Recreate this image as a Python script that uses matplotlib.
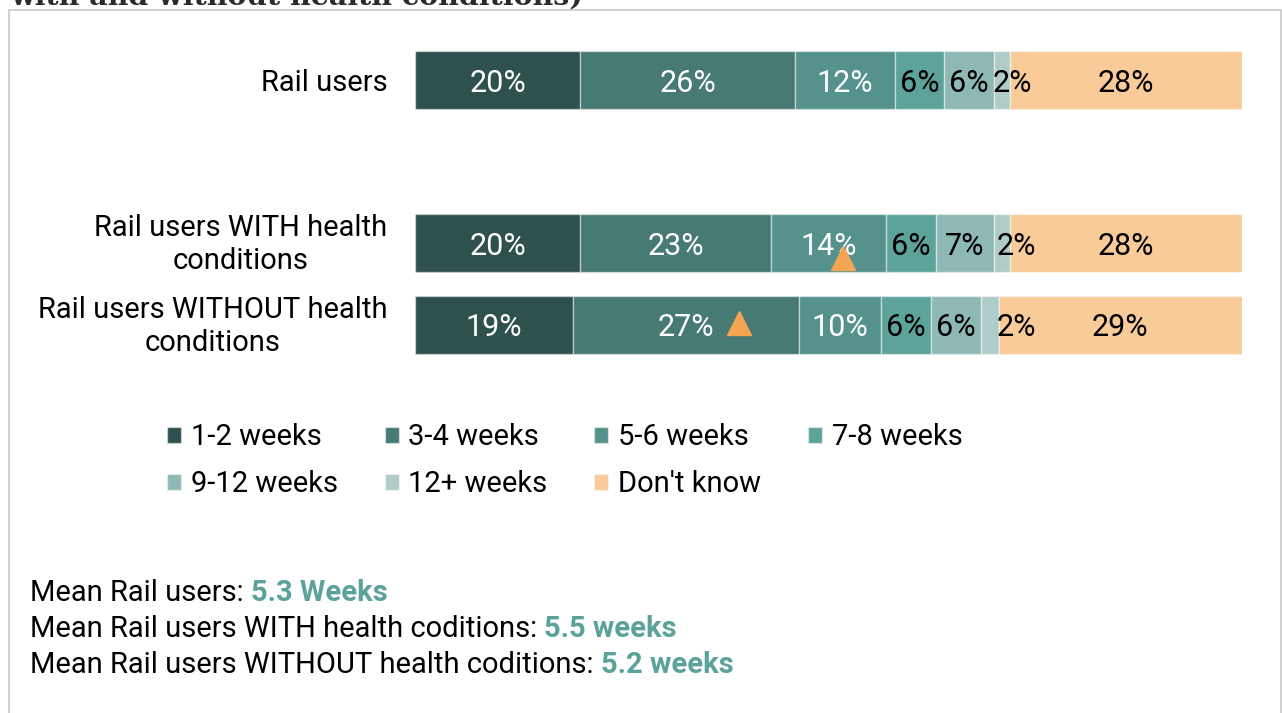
import numpy as np
import matplotlib.pyplot as plt
import matplotlib.transforms as mtransforms
from matplotlib.patches import Rectangle

plt.rcParams['font.family'] = ['Roboto', 'DejaVu Sans']

# rows of the chart (position 1 is left empty as a gap)
groups = ['Rail users', 'Rail users WITH health\nconditions', 'Rail users WITHOUT health\nconditions']
group_pos = [0, 2, 3]

periods = ['1-2 weeks', '3-4 weeks', '5-6 weeks', '7-8 weeks', '9-12 weeks', '12+ weeks', "Don't know"]
colors = ['#2F514D', '#487A74', '#54928B', '#5EA39A', '#8DB8B3', '#B0CCC9', '#F9CB98']
text_colors = ['white', 'white', 'white', 'black', 'black', 'black', 'black']

# share (%) of each row per period
shares = np.array([
    [20.0, 26.0, 12.0, 6.0, 6.0, 2.0, 28.0],
    [20.0, 23.0, 14.0, 6.0, 7.0, 2.0, 28.0],
    [19.1, 27.3, 10.0, 6.0, 6.0, 2.2, 29.4],
])

# significance markers: (row, period index)
sig_marks = [(1, 2), (2, 1)]
sig_offsets = {(1, 2): (10.5, -10.8), (2, 1): (38, 1.4)}

# label nudge (points) for the thin 12+ segment
small_nudge = [7, 10, 19]

mean_labels = ['Mean Rail users: ', 'Mean Rail users WITH health coditions: ',
               'Mean Rail users WITHOUT health coditions: ']
mean_values = ['5.3 Weeks', '5.5 weeks', '5.2 weeks']

fig = plt.figure(figsize=(12.82, 7.13), dpi=100)
ax = fig.add_axes([415 / 1282, 1 - 365.8 / 713, 827 / 1282, 326.6 / 713])

left = np.zeros(len(groups))
bars = []
for j, name in enumerate(periods):
    b = ax.barh(group_pos, shares[:, j], left=left, height=0.71, color=colors[j],
                edgecolor=(1, 1, 1, 0.45), linewidth=1, label=name)
    bars.append(b)
    for i in range(len(groups)):
        cx = left[i] + shares[i, j] / 2
        dx = small_nudge[i] if shares[i, j] < 3 else 0
        ax.annotate(f'{shares[i, j]:.0f}%', (cx, group_pos[i]), xytext=(dx, 0),
                    textcoords='offset points', ha='center', va='center_baseline',
                    fontsize=22, color=text_colors[j])
    left += shares[:, j]

# orange triangles
for (i, j) in sig_marks:
    cx = shares[i, :j].sum() + shares[i, j] / 2
    ox, oy = sig_offsets[(i, j)]
    tr = mtransforms.offset_copy(ax.transData, fig=fig, x=ox, y=oy, units='points')
    ax.plot(cx, group_pos[i], marker='^', markersize=17, color='#F4A553',
            linestyle='none', transform=tr, zorder=5)

ax.set_xlim(0, 100)
ax.set_ylim(3.5, -0.5)
ax.set_yticks(group_pos)
ax.set_yticklabels(groups, fontsize=21, multialignment='center', linespacing=1.22)
ax.tick_params(axis='y', length=0, pad=20)
ax.set_xticks([])
for s in ax.spines.values():
    s.set_visible(False)

# two-line labels sit a little higher
lift = mtransforms.ScaledTranslation(0, 0.04, fig.dpi_scale_trans)
for lbl in ax.get_yticklabels():
    if '\n' in lbl.get_text():
        lbl.set_transform(lbl.get_transform() + lift)

# legend laid out row by row
order = [0, 4, 1, 5, 2, 6, 3]
handles = [bars[k] for k in order]
labels = [periods[k] for k in order]
fig.legend(handles, labels, loc='upper left', bbox_to_anchor=(167 / 1282, 1 - 423 / 713),
           ncol=4, frameon=False, fontsize=21, handlelength=0.48, handleheight=0.48,
           handletextpad=0.34, columnspacing=1.6, labelspacing=0.66, borderpad=0,
           borderaxespad=0)

# mean lines under the legend
for k in range(3):
    y = 1 - (601 + 36 * k) / 713
    t = fig.text(30 / 1282, y, mean_labels[k], fontsize=21, va='baseline', color='black')
    fig.add_artist(plt.Annotation(mean_values[k], xy=(1, y), xycoords=(t, 'figure fraction'),
                                  va='baseline', ha='left', fontsize=21, fontweight='bold',
                                  color='#5BA39A'))

# frame around the chart and the clipped heading above it
fig.add_artist(Rectangle((9 / 1282, -0.02), 1272 / 1282, 1.02 - 10 / 713, transform=fig.transFigure,
                         fill=False, edgecolor='#C8C8C8', linewidth=1.2))
fig.text(10 / 1282, 1 - 5 / 713, 'with and without health conditions)', fontsize=20.5,
         fontweight='bold', family='DejaVu Serif', color='#2B2B2B', va='baseline')

fig.savefig('out.png', dpi=100)
